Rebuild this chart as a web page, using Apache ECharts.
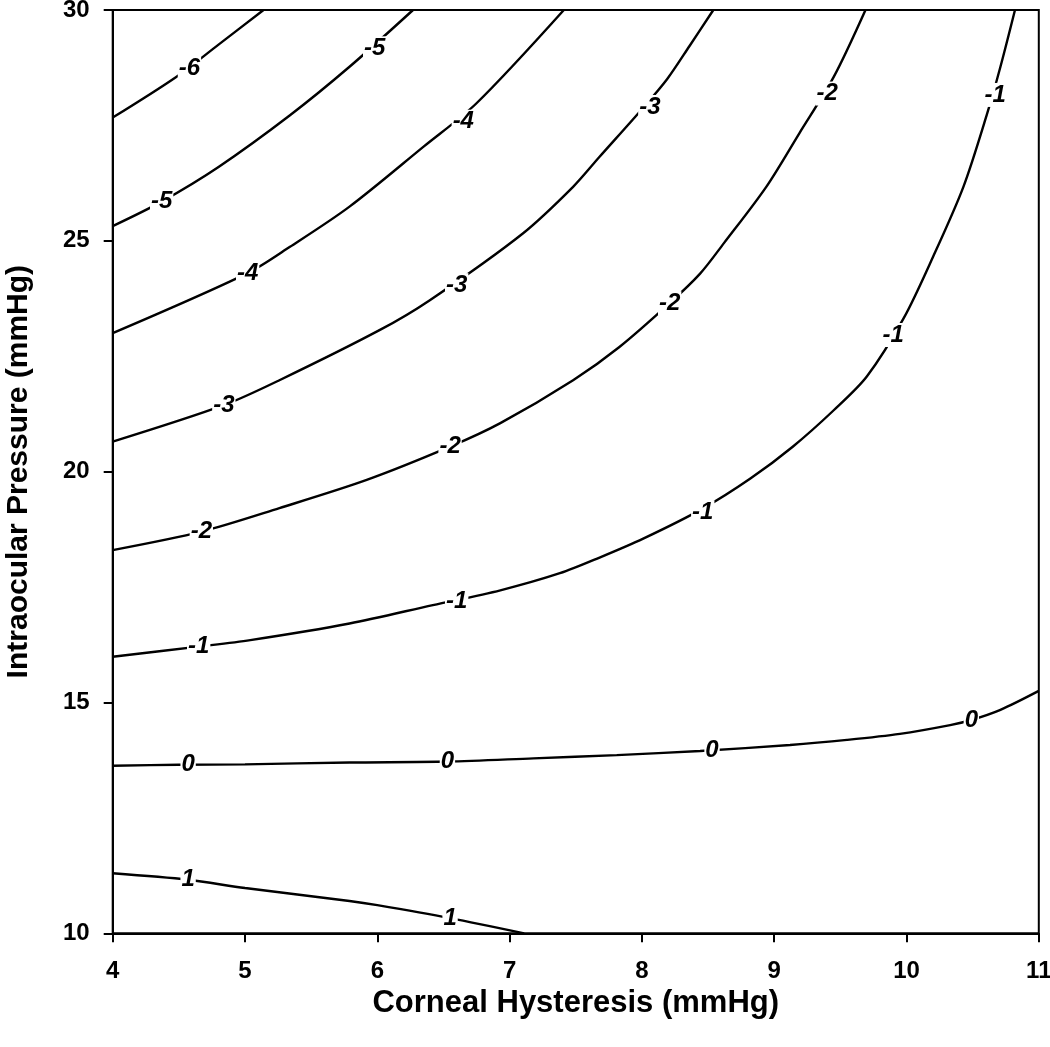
<!DOCTYPE html>
<html>
<head>
<meta charset="utf-8">
<title>Contour plot</title>
<script src="https://cdn.jsdelivr.net/npm/echarts@6/dist/echarts.min.js"></script>
<style>
  html, body { margin: 0; padding: 0; background: #fff; }
  #chart { width: 1050px; height: 1047px; }
</style>
</head>
<body>
<div id="chart"></div>
<script>
// contour lines, [hysteresis, pressure]
const levelM6 = [[4, 27.67], [4.48, 28.55], [4.8, 29.25], [5.14, 30]];
const levelM5 = [[4, 25.32], [4.37, 25.85], [4.8, 26.6], [5.34, 27.72], [5.79, 28.77], [6.27, 30]];
const levelM4 = [[4, 23.0], [5.02, 24.3], [5.34, 24.87], [5.79, 25.74], [6.35, 27.04], [6.75, 27.98], [7.41, 30]];
const levelM3 = [[4, 20.65], [4.84, 21.44], [5.26, 21.98], [6.02, 23.07], [6.4, 23.72], [7.1, 25.16], [7.48, 26.17], [7.68, 26.82], [8.0, 27.85], [8.19, 28.5], [8.36, 29.22], [8.54, 30]];
const levelM2 = [[4, 18.3], [4.67, 18.7], [5.26, 19.21], [5.92, 19.82], [6.55, 20.54], [6.93, 21.05], [7.48, 21.98], [7.83, 22.7], [8.21, 23.65], [8.44, 24.29], [8.62, 24.95], [8.94, 26.17], [9.19, 27.33], [9.45, 28.55], [9.69, 30]];
const levelM1 = [[4, 15.99], [4.65, 16.21], [5.04, 16.35], [5.79, 16.71], [6.42, 17.11], [6.93, 17.43], [7.38, 17.8], [7.68, 18.14], [8.01, 18.55], [8.46, 19.2], [8.82, 19.85], [9.14, 20.54], [9.45, 21.33], [9.7, 22.06], [9.98, 23.33], [10.2, 24.65], [10.43, 26.17], [10.61, 27.76], [10.71, 28.77], [10.82, 30]];
const level0 = [[4, 13.63], [4.5, 13.65], [5, 13.66], [5.79, 13.7], [6.53, 13.72], [7.18, 13.79], [7.81, 13.86], [8.44, 13.95], [9.12, 14.08], [9.55, 14.19], [9.95, 14.32], [10.33, 14.51], [10.49, 14.62], [10.71, 14.84], [11, 15.25]];
const level1 = [[4, 11.3], [4.57, 11.16], [5, 10.98], [5.79, 10.7], [6.0, 10.61], [6.55, 10.33], [7.11, 10.0]];

const contours = [levelM6, levelM5, levelM4, levelM3, levelM2, levelM1, level0, level1];

// label positions on the lines: [x, y, text]
const contourLabels = [
    [4.58, 28.73, '-6'],
    [4.37, 25.85, '-5'], [5.98, 29.17, '-5'],
    [5.02, 24.3, '-4'], [6.65, 27.58, '-4'],
    [4.84, 21.44, '-3'], [6.6, 24.04, '-3'], [8.06, 27.9, '-3'],
    [4.67, 18.7, '-2'], [6.55, 20.54, '-2'], [8.21, 23.65, '-2'], [9.4, 28.19, '-2'],
    [4.65, 16.21, '-1'], [6.6, 17.18, '-1'], [8.46, 19.12, '-1'], [9.9, 22.96, '-1'], [10.67, 28.16, '-1'],
    [4.57, 13.66, '0'], [6.53, 13.72, '0'], [8.53, 13.97, '0'], [10.49, 14.62, '0'],
    [4.57, 11.16, '1'], [6.55, 10.33, '1']
];

const xTitle = 'Corneal Hysteresis (mmHg)';
const yTitle = 'Intraocular Pressure (mmHg)';

const chart = echarts.init(document.getElementById('chart'));

const font = 'Liberation Sans, Arial, sans-serif';

const series = contours.map(function(pts) {
    return {
        type: 'line',
        data: pts,
        smooth: 0.3,
        showSymbol: false,
        silent: true,
        clip: true,
        lineStyle: { color: '#000', width: 2.4 },
        z: 2
    };
});

// the level numbers sit on the lines with a white box behind them
series.push({
    type: 'scatter',
    data: contourLabels,
    symbolSize: 1,
    itemStyle: { color: '#fff', opacity: 1 },
    silent: true,
    z: 5,
    label: {
        show: true,
        position: 'inside',
        formatter: function(p) { return p.data[2]; },
        fontFamily: font,
        fontStyle: 'italic',
        fontWeight: 'bold',
        fontSize: 24,
        color: '#000',
        opacity: 1,
        textBorderWidth: 0,
        backgroundColor: '#fff',
        padding: [0, 1]
    }
});

const option = {
    animation: false,
    backgroundColor: '#fff',
    grid: {
        left: 112.7,
        right: 11.2,
        top: 10,
        bottom: 113.7,
        outerBoundsMode: 'none',
        show: true,
        borderColor: '#000',
        borderWidth: 2
    },
    xAxis: {
        type: 'value',
        min: 4,
        max: 11,
        interval: 1,
        name: xTitle,
        nameLocation: 'middle',
        nameGap: 52,
        nameTextStyle: { fontFamily: font, fontWeight: 'bold', fontSize: 31, color: '#000' },
        axisLine: { show: true, lineStyle: { color: '#000', width: 2 } },
        axisTick: { show: true, length: 9, lineStyle: { color: '#000', width: 2 } },
        axisLabel: { fontFamily: font, fontWeight: 'bold', fontSize: 24, color: '#000', margin: 26 },
        splitLine: { show: false }
    },
    yAxis: {
        type: 'value',
        min: 10,
        max: 30,
        interval: 5,
        name: yTitle,
        nameLocation: 'middle',
        nameGap: 79,
        nameTextStyle: { fontFamily: font, fontWeight: 'bold', fontSize: 30, color: '#000' },
        axisLine: { show: true, lineStyle: { color: '#000', width: 2 } },
        axisTick: { show: true, length: 9, lineStyle: { color: '#000', width: 2 } },
        axisLabel: { fontFamily: font, fontWeight: 'bold', fontSize: 24, color: '#000', margin: 23 },
        splitLine: { show: false }
    },
    series: series
};

chart.setOption(option);
</script>
</body>
</html>
